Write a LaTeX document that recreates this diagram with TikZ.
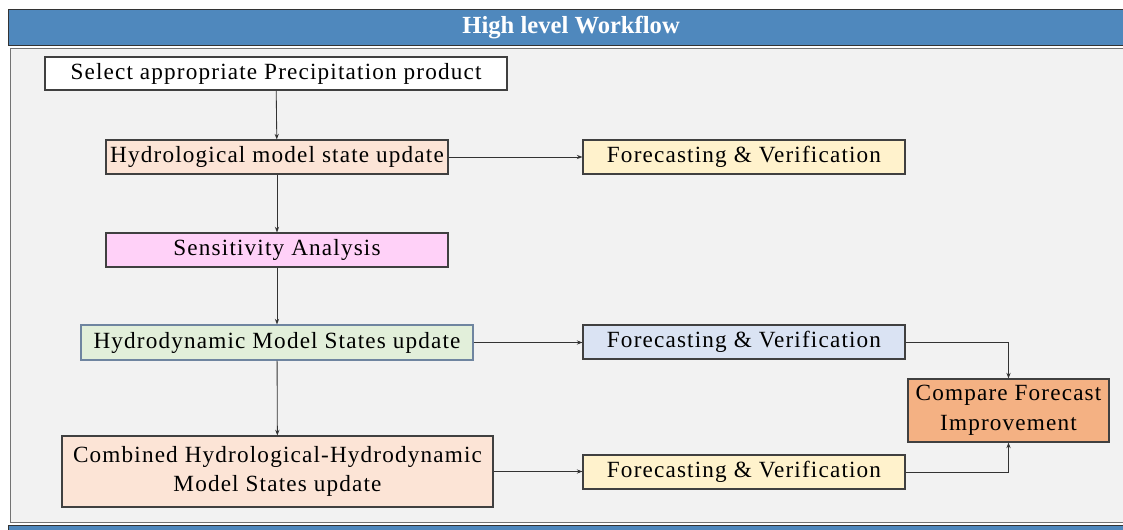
\documentclass[tikz,border=0pt]{standalone}
\usepackage{fontspec}
\setmainfont{Liberation Serif}
\usetikzlibrary{positioning,arrows.meta}
\definecolor{barblue}{HTML}{4F88BD}
\definecolor{panelgray}{HTML}{F2F2F2}
\definecolor{peach}{HTML}{FCE4D6}
\definecolor{cream}{HTML}{FFF2CC}
\definecolor{pinkish}{HTML}{FFD1F8}
\definecolor{mint}{HTML}{E2EFDA}
\definecolor{paleblue}{HTML}{DAE3F3}
\definecolor{salmon}{HTML}{F4B183}
\definecolor{slateline}{HTML}{6F85A0}
\tikzset{
 stepbox/.style = {rectangle, draw=black!75, line width=0.8pt,
           inner sep=0pt, align=center,
           font=\fontsize{16.5}{21}\selectfont\addfontfeature{LetterSpace=5}},
 flow/.style = {draw=black!80, line width=0.6pt,
           -{Stealth[length=4pt,width=3pt]}}
}

\begin{document}
\begin{tikzpicture}[x=0.025cm,y=-0.025cm]
  \useasboundingbox (0,0) rectangle (1123,530);
  \clip (0,0) rectangle (1123,530);

  % Frame
  \node[draw=black!80, fill=barblue, line width=0.8pt, minimum width=1125*0.025cm,
    minimum height=36*0.025cm, anchor=north west, inner sep=0pt,
    text=white, font=\fontsize{17.5}{20}\selectfont\bfseries] (title) at (8,9)
    {High level Workflow};
  \node[draw=black!55, fill=panelgray, line width=0.8pt, minimum width=1125*0.025cm,
    minimum height=474*0.025cm, anchor=north west, inner sep=0pt] (panel) at (10,48) {};
  \node[draw=black!80, fill=barblue, line width=0.8pt, minimum width=1125*0.025cm,
    minimum height=30*0.025cm, anchor=north west, inner sep=0pt] (footer) at (8,525) {};

  % Column 1
  \node[stepbox, fill=white, minimum width=462*0.025cm, minimum height=33*0.025cm]
    (select) at (276,73.5) {Select appropriate Precipitation product};
  \node[stepbox, fill=peach, minimum width=342*0.025cm, minimum height=34*0.025cm]
    (hydrol) at (277,157) {Hydrological model state update};
  \node[stepbox, fill=pinkish, minimum width=342*0.025cm, minimum height=34*0.025cm]
    (sens) at (277,250) {Sensitivity Analysis};
  \node[stepbox, fill=mint, draw=slateline, minimum width=392*0.025cm,
    minimum height=35*0.025cm] (hydrod) at (277,342.5) {Hydrodynamic Model States update};
  \node[stepbox, fill=peach, minimum width=431*0.025cm, minimum height=71*0.025cm]
    (comb) at (277.5,471.5) {Combined Hydrological-Hydrodynamic\\Model States update};

  % Column 2
  \node[stepbox, fill=cream, minimum width=322*0.025cm, minimum height=34*0.025cm]
    (fc1) at (744,157) {Forecasting \& Verification};
  \node[stepbox, fill=paleblue, minimum width=322*0.025cm, minimum height=34*0.025cm]
    (fc2) at (744,342) {Forecasting \& Verification};
  \node[stepbox, fill=cream, minimum width=322*0.025cm, minimum height=34*0.025cm]
    (fc3) at (744,472) {Forecasting \& Verification};

  % Column 3
  \node[stepbox, fill=salmon, minimum width=201*0.025cm, minimum height=63*0.025cm]
    (cmp) at (1008.5,410.5) {Compare Forecast\\Improvement};

  % Connectors
  \draw[flow] (select) -- (hydrol);
  \draw[flow] (hydrol) -- (sens);
  \draw[flow] (sens) -- (hydrod);
  \draw[flow] (hydrod) -- (comb);
  \draw[flow] (hydrol) -- (fc1);
  \draw[flow] (hydrod.east) -- (fc2.west |- hydrod.east);
  \draw[flow] (comb.east) -- (fc3.west |- comb.east);
  \draw[flow] (fc2.east) -| (cmp.north);
  \draw[flow] (fc3.east) -| (cmp.south);
\end{tikzpicture}
\end{document}
